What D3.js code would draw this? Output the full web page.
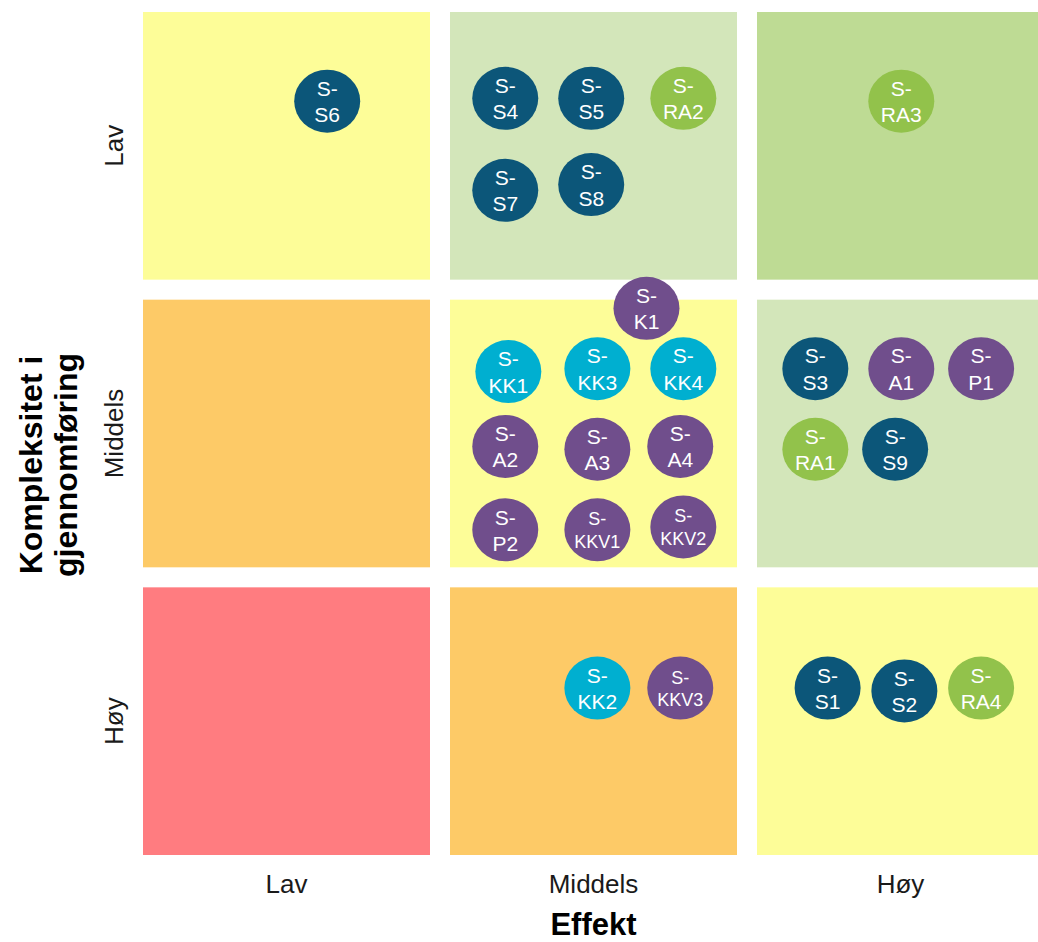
<!DOCTYPE html>
<html>
<head>
<meta charset="utf-8">
<script src="https://cdn.jsdelivr.net/npm/d3@7"></script>
<style>
  html, body { margin: 0; padding: 0; background: #ffffff; }
  svg { display: block; font-family: "Liberation Sans", Arial, sans-serif; }
</style>
</head>
<body>
<svg id="chart" width="1038" height="942"></svg>
<script>
// Axis categories
const effektLevels = ["Lav", "Middels", "Høy"];
const kompleksitetLevels = ["Lav", "Middels", "Høy"];

// Measures (tiltak) with their effect and complexity scores (0–3, one unit per category)
const tiltak = ["S6", "S4", "S5", "RA2", "S7", "S8", "RA3",
  "K1", "KK1", "KK3", "KK4", "A2", "A3", "A4", "P2", "KKV1", "KKV2",
  "S3", "A1", "P1", "RA1", "S9",
  "KK2", "KKV3", "S1", "S2", "RA4"];
const effektScore = [0.60, 1.18, 1.46, 1.76, 1.18, 1.46, 2.47,
  1.64, 1.19, 1.48, 1.76, 1.18, 1.48, 1.75, 1.18, 1.48, 1.76,
  2.19, 2.47, 2.73, 2.19, 2.45,
  1.48, 1.75, 2.23, 2.48, 2.73];
const kompleksitetScore = [0.31, 0.30, 0.30, 0.30, 0.62, 0.60, 0.31,
  1.03, 1.25, 1.24, 1.24, 1.51, 1.52, 1.51, 1.80, 1.80, 1.79,
  1.24, 1.24, 1.24, 1.52, 1.52,
  2.35, 2.35, 2.35, 2.36, 2.35];

// Measure groups and cell ratings
const groups = ["S", "KK", "KKV", "RA", "A", "P", "K"];
const groupColors = ["#0C5679", "#00AFD0", "#704E8C", "#92C24B", "#704E8C", "#704E8C", "#704E8C"];
const ratingLevels = [-2, -1, 0, 1, 2];
const ratingColors = ["#FF7C80", "#FDCA67", "#FDFD98", "#D3E6BA", "#BEDB94"];

const svg = d3.select("#chart");

const x = d3.scaleBand().domain(effektLevels).range([143, 1044])
  .paddingInner(20 / 307).paddingOuter(0);
const y = d3.scaleBand().domain(kompleksitetLevels).range([12, 855])
  .paddingInner(20 / 287.5).paddingOuter(0);

// Continuous scales aligned with the category bands
const xs = d3.scaleLinear().domain([0, 3]).range([x.range()[0], x.range()[0] + 3 * x.step()]);
const ys = d3.scaleLinear().domain([0, 3]).range([y.range()[0], y.range()[0] + 3 * y.step()]);

const groupColor = d3.scaleOrdinal().domain(groups).range(groupColors);
const ratingColor = d3.scaleOrdinal().domain(ratingLevels).range(ratingColors);

// Grid cells: colour follows effect level minus complexity level
const cells = [];
effektLevels.forEach((e, i) => {
  kompleksitetLevels.forEach((k, j) => cells.push({ e, k, rating: i - j }));
});

svg.append("g").selectAll("rect").data(cells).join("rect")
  .attr("x", d => x(d.e))
  .attr("y", d => y(d.k))
  .attr("width", x.bandwidth())
  .attr("height", y.bandwidth())
  .attr("fill", d => ratingColor(d.rating));

// Measures
const items = tiltak.map((t, i) => ({
  id: t,
  group: t.replace(/[0-9]+$/, ""),
  e: effektScore[i],
  k: kompleksitetScore[i]
}));

const node = svg.append("g").selectAll("g").data(items).join("g")
  .attr("transform", d => `translate(${xs(d.e)},${ys(d.k)})`);

node.append("ellipse")
  .attr("rx", 33)
  .attr("ry", 31.5)
  .attr("fill", d => groupColor(d.group));

node.append("text")
  .attr("text-anchor", "middle")
  .attr("fill", "#ffffff")
  .attr("font-size", d => d.group === "KKV" ? 18 : 21)
  .each(function (d) {
    const t = d3.select(this);
    t.append("tspan").attr("x", 0).attr("y", "-0.25em").text("S-");
    t.append("tspan").attr("x", 0).attr("y", "1.0em").text(d.id);
  });

// X axis
const xAxis = svg.append("g")
  .attr("transform", "translate(0,893)")
  .call(d3.axisBottom(x).tickSize(0).tickPadding(0));
xAxis.select(".domain").remove();
xAxis.selectAll("text")
  .attr("y", 0).attr("dy", null)
  .attr("font-size", 26)
  .attr("font-family", "Liberation Sans, Arial, sans-serif")
  .attr("fill", "#1a1a1a");

// Y axis
const yAxis = svg.append("g")
  .attr("transform", "translate(123,0)")
  .call(d3.axisLeft(y).tickSize(0).tickPadding(0));
yAxis.select(".domain").remove();
yAxis.selectAll("text")
  .attr("x", 0).attr("y", 0).attr("dy", null)
  .attr("transform", "rotate(-90)")
  .attr("text-anchor", "middle")
  .attr("font-size", 26)
  .attr("font-family", "Liberation Sans, Arial, sans-serif")
  .attr("fill", "#1a1a1a");

// Axis titles
svg.append("text")
  .attr("x", x.range()[0] + x.step() * 1 + x.bandwidth() / 2)
  .attr("y", 935)
  .attr("text-anchor", "middle")
  .attr("font-size", 31)
  .attr("font-weight", "bold")
  .attr("fill", "#000")
  .text("Effekt");

const yTitle = svg.append("text")
  .attr("transform", "translate(0,465) rotate(-90)")
  .attr("text-anchor", "middle")
  .attr("font-size", 32)
  .attr("font-weight", "bold")
  .attr("fill", "#000");
yTitle.append("tspan").attr("x", 0).attr("y", 42).text("Kompleksitet i");
yTitle.append("tspan").attr("x", 0).attr("y", 77).text("gjennomføring");
</script>
</body>
</html>
